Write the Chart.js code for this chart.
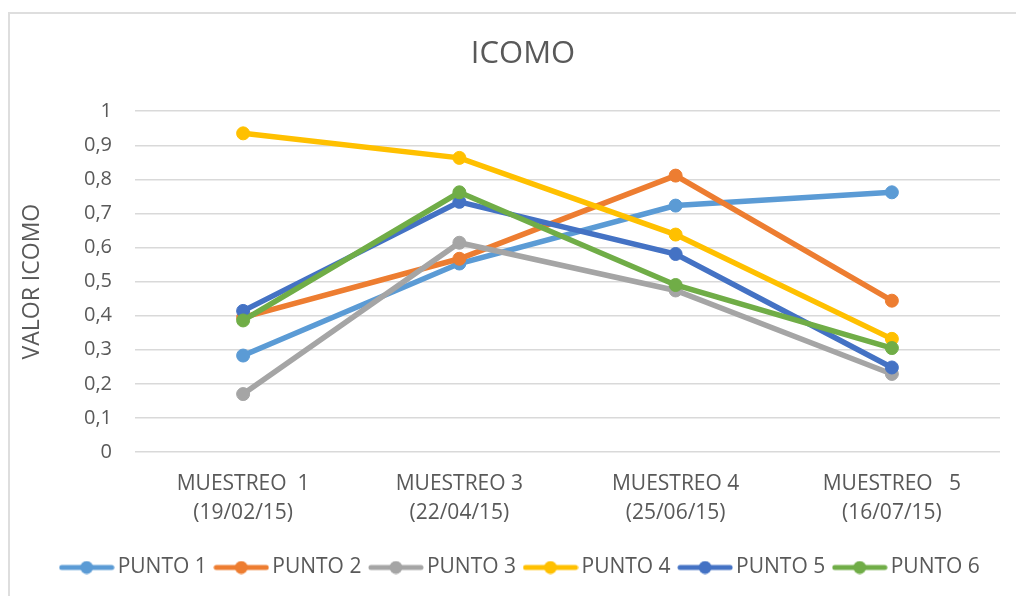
<!DOCTYPE html>
<html>
<head>
<meta charset="utf-8">
<script src="https://cdn.jsdelivr.net/npm/chart.js@4.4.0/dist/chart.umd.min.js"></script>
<style>
  html, body { margin: 0; padding: 0; background: #fff; overflow: hidden; }
  #frame { position: absolute; left: 8px; top: 12px; width: 1100px; height: 700px; border: 2px solid #dedede; box-sizing: border-box; }
  #wrap { position: absolute; left: 0; top: 0; width: 1046px; height: 596px; }
</style>
</head>
<body>
<div id="frame"></div>
<div id="wrap"><canvas id="chart"></canvas></div>
<script>
// categories (x axis)
const muestreos = [
  ['MUESTREO  1', '(19/02/15)'],
  ['MUESTREO 3', '(22/04/15)'],
  ['MUESTREO 4', '(25/06/15)'],
  ['MUESTREO   5', '(16/07/15)']
];

// series values
const punto1 = [0.283, 0.553, 0.723, 0.762];
const punto2 = [0.395, 0.567, 0.811, 0.444];
const punto3 = [0.170, 0.614, 0.474, 0.229];
const punto4 = [0.935, 0.863, 0.638, 0.332];
const punto5 = [0.414, 0.734, 0.581, 0.248];
const punto6 = [0.386, 0.762, 0.490, 0.305];

const yTicks = [0, 0.1, 0.2, 0.3, 0.4, 0.5, 0.6, 0.7, 0.8, 0.9, 1];

const textColor = '#595959';
const fontFamily = '"Open Sans", "Liberation Sans", sans-serif';

// legend marker: short line with a dot in the middle
function legendMarker(color) {
  const c = document.createElement('canvas');
  c.width = 56;
  c.height = 14;
  const ctx = c.getContext('2d');
  ctx.strokeStyle = color;
  ctx.lineWidth = 5;
  ctx.lineCap = 'round';
  ctx.beginPath();
  ctx.moveTo(3, 7);
  ctx.lineTo(53, 7);
  ctx.stroke();
  ctx.fillStyle = color;
  ctx.beginPath();
  ctx.arc(28, 7, 6.5, 0, Math.PI * 2);
  ctx.fill();
  return c;
}

function makeSeries(label, data, color, order) {
  return {
    label: label,
    data: data,
    borderColor: color,
    backgroundColor: color,
    borderWidth: 5.5,
    pointRadius: 6.5,
    pointBorderWidth: 1,
    pointBorderColor: color,
    pointBackgroundColor: color,
    pointStyle: 'circle',
    legendStyle: legendMarker(color),
    tension: 0,
    order: order
  };
}

const datasets = [
  makeSeries('PUNTO 1', punto1, '#5B9BD5', 6),
  makeSeries('PUNTO 2', punto2, '#ED7D31', 5),
  makeSeries('PUNTO 3', punto3, '#A5A5A5', 4),
  makeSeries('PUNTO 4', punto4, '#FFC000', 3),
  makeSeries('PUNTO 5', punto5, '#4472C4', 2),
  makeSeries('PUNTO 6', punto6, '#70AD47', 1)
];

new Chart(document.getElementById('chart'), {
  type: 'line',
  data: { labels: muestreos, datasets: datasets },
  options: {
    responsive: true,
    maintainAspectRatio: false,
    animation: false,
    layout: { padding: { left: 0, right: 0, top: 0, bottom: 8 } },
    plugins: {
      title: {
        display: true,
        text: 'ICOMO',
        color: textColor,
        font: { family: fontFamily, size: 31, weight: 'normal', lineHeight: 1.2 },
        padding: { top: 36, bottom: 38 }
      },
      legend: {
        position: 'bottom',
        labels: {
          color: textColor,
          font: { family: fontFamily, size: 21 },
          usePointStyle: true,
          pointStyleWidth: 41,
          padding: 14,
          generateLabels: chart => chart.data.datasets.map((ds, i) => ({
            text: ds.label,
            fillStyle: ds.borderColor,
            strokeStyle: ds.borderColor,
            lineWidth: 0,
            pointStyle: ds.legendStyle,
            hidden: !chart.isDatasetVisible(i),
            datasetIndex: i,
            fontColor: textColor
          }))
        }
      },
      tooltip: { enabled: false }
    },
    scales: {
      x: {
        offset: true,
        grid: { display: false, drawTicks: false, offset: true },
        border: { display: false },
        ticks: {
          color: textColor,
          font: { family: fontFamily, size: 21, lineHeight: 1.38 },
          padding: 18,
          maxRotation: 0,
          autoSkip: false
        },
        afterFit: scale => { scale.height = 91; }
      },
      y: {
        min: 0,
        max: 1,
        afterBuildTicks: scale => { scale.ticks = yTicks.map(v => ({ value: v })); },
        grid: { color: '#d9d9d9', lineWidth: 1.5, drawTicks: false },
        border: { display: false },
        ticks: {
          color: textColor,
          font: { family: fontFamily, size: 20 },
          padding: 23,
          callback: v => (v === 0 || v === 1) ? String(v) : v.toFixed(1).replace('.', ',')
        },
        title: {
          display: true,
          text: 'VALOR ICOMO',
          color: textColor,
          font: { family: fontFamily, size: 23 },
          padding: { top: 19, bottom: 0 }
        },
        afterFit: scale => { scale.width = 135; }
      },
      // empty right-hand spacer so the plot ends where the reference does
      spacer: {
        type: 'linear',
        position: 'right',
        grid: { display: false, drawTicks: false },
        border: { display: false },
        ticks: { display: false },
        afterFit: scale => { scale.width = 46; }
      }
    }
  }
});
</script>
</body>
</html>
